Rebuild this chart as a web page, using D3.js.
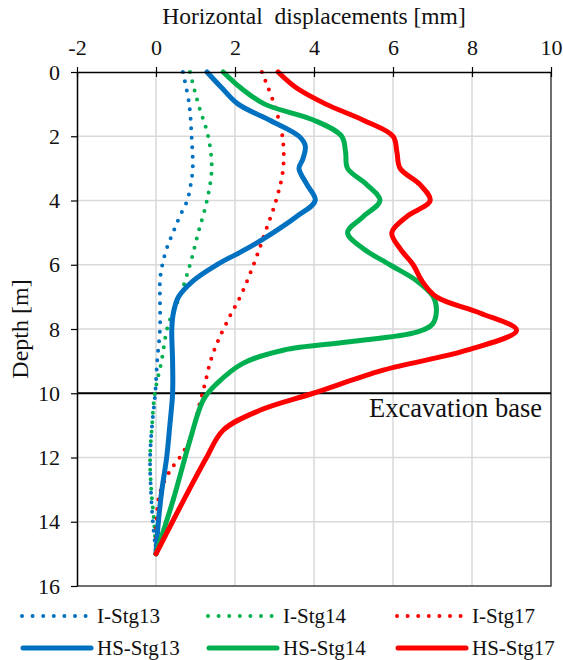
<!DOCTYPE html>
<html>
<head>
<meta charset="utf-8">
<script src="https://cdn.jsdelivr.net/npm/d3@7"></script>
<style>
  body { margin: 0; background: #fff; }
  svg text { font-family: 'Liberation Serif', 'Times New Roman', 'DejaVu Serif', serif; }
</style>
</head>
<body>
<div id="chart"></div>
<script>
// depth [m] and horizontal displacement [mm] per series
const depthI13 = [0, 1, 2, 3, 3.5, 4, 4.5, 5, 5.5, 6, 6.5, 7, 8, 9, 10, 11, 12, 13, 14, 15];
const valI13   = [0.68, 0.84, 0.9, 0.93, 0.88, 0.79, 0.6, 0.43, 0.27, 0.16, 0.1, 0.1, 0.1, 0.03, -0.02, -0.1, -0.15, -0.13, -0.08, 0];

const depthI14 = [0, 1, 2, 3, 4, 5, 6, 7, 7.5, 8, 9, 10, 11, 12, 13, 14, 15];
const valI14   = [0.86, 1.07, 1.32, 1.41, 1.29, 1.07, 0.86, 0.6, 0.42, 0.28, 0.14, -0.03, -0.1, -0.15, -0.12, -0.05, 0];

const depthI17 = [0, 1, 2, 3, 4, 5, 6, 7, 7.6, 8.4, 9, 9.7, 10.3, 11.4, 12, 12.4, 13.1, 14, 15];
const valI17   = [2.68, 2.99, 3.2, 3.22, 3.04, 2.76, 2.47, 2.13, 1.87, 1.56, 1.38, 1.24, 1.11, 0.87, 0.6, 0.36, 0.1, 0.01, 0];

const depthHS13 = [0, 0.5, 1, 1.5, 2, 2.3, 2.7, 3, 3.5, 4, 4.5, 5, 5.5, 6, 6.5, 7, 7.5, 8, 9, 10, 11, 12, 13, 14, 15];
const valHS13   = [1.29, 1.67, 2.08, 2.88, 3.62, 3.78, 3.72, 3.62, 3.82, 4.03, 3.56, 2.97, 2.3, 1.54, 0.94, 0.57, 0.44, 0.4, 0.42, 0.42, 0.35, 0.27, 0.15, 0.06, 0];

const depthHS14 = [0, 0.5, 1, 1.5, 2, 2.5, 3, 3.5, 4, 4.5, 5, 5.5, 6, 6.5, 7, 7.4, 7.85, 8.1, 8.4, 8.66, 9.07, 9.7, 10.2, 11.46, 13.3, 15];
const valHS14   = [1.7, 2.15, 2.75, 4.0, 4.7, 4.8, 4.85, 5.33, 5.67, 5.25, 4.85, 5.25, 5.92, 6.6, 7.02, 7.1, 7.0, 6.6, 4.9, 3.22, 2.2, 1.54, 1.2, 0.86, 0.44, 0];

const depthHS17 = [0, 0.5, 1, 1.5, 2, 2.5, 3, 3.5, 4, 4.5, 5, 5.5, 6, 6.5, 7, 7.5, 8.04, 8.66, 9.28, 10, 10.53, 11.15, 12, 13.54, 15];
const valHS17   = [3.09, 3.56, 4.3, 5.25, 6.0, 6.1, 6.18, 6.68, 6.94, 6.35, 5.97, 6.18, 6.51, 6.73, 7.1, 8.2, 9.13, 7.87, 5.75, 3.98, 2.63, 1.7, 1.28, 0.61, 0];

const seriesNames = ['I-Stg13', 'I-Stg14', 'I-Stg17', 'HS-Stg13', 'HS-Stg14', 'HS-Stg17'];
const xTicks = [-2, 0, 2, 4, 6, 8, 10];
const yTicks = [0, 2, 4, 6, 8, 10, 12, 14, 16];
const excavationDepth = 10;

const colors = { '13': '#0070c0', '14': '#00b050', '17': '#ff0000' };

const series = [
    { name: seriesNames[0], depth: depthI13, val: valI13, stage: '13', dotted: true },
    { name: seriesNames[1], depth: depthI14, val: valI14, stage: '14', dotted: true },
    { name: seriesNames[2], depth: depthI17, val: valI17, stage: '17', dotted: true },
    { name: seriesNames[3], depth: depthHS13, val: valHS13, stage: '13', dotted: false },
    { name: seriesNames[4], depth: depthHS14, val: valHS14, stage: '14', dotted: false },
    { name: seriesNames[5], depth: depthHS17, val: valHS17, stage: '17', dotted: false }
];

const W = 563, H = 660;
const m = { top: 72, left: 77, right: 12, bottom: 74 };
const pw = W - m.left - m.right, ph = H - m.top - m.bottom;
const serif = "'Liberation Serif', 'Times New Roman', 'DejaVu Serif', serif";

const svg = d3.select('#chart').append('svg')
    .attr('width', W)
    .attr('height', H);

const x = d3.scaleLinear().domain([-2, 10]).range([0, pw]);
const y = d3.scaleLinear().domain([0, 16]).range([0, ph]);

const plot = svg.append('g')
    .attr('transform', `translate(${m.left},${m.top})`);

// grid
plot.append('g').selectAll('line')
    .data(xTicks.slice(1, -1))
    .join('line')
    .attr('x1', d => x(d)).attr('x2', d => x(d))
    .attr('y1', 0).attr('y2', ph)
    .attr('stroke', '#d9d9d9').attr('stroke-width', 1.5);

plot.append('g').selectAll('line')
    .data(yTicks.slice(1, -1))
    .join('line')
    .attr('x1', 0).attr('x2', pw)
    .attr('y1', d => y(d)).attr('y2', d => y(d))
    .attr('stroke', '#d9d9d9').attr('stroke-width', 1.5);

// frame (right and bottom)
plot.append('path')
    .attr('d', `M${pw},0V${ph}H0`)
    .attr('fill', 'none')
    .attr('stroke', '#404040')
    .attr('stroke-width', 1.5);

// excavation base
plot.append('line')
    .attr('x1', 0).attr('x2', pw)
    .attr('y1', y(excavationDepth)).attr('y2', y(excavationDepth))
    .attr('stroke', '#000').attr('stroke-width', 2);

plot.append('text')
    .attr('x', pw - 9)
    .attr('y', y(excavationDepth) + 24)
    .attr('text-anchor', 'end')
    .attr('font-size', 26.5)
    .attr('fill', '#111')
    .text('Excavation base');

// curves
const line = d3.line()
    .x(d => x(d[1]))
    .y(d => y(d[0]))
    .curve(d3.curveCatmullRom.alpha(0.5));

plot.append('g').selectAll('path')
    .data(series)
    .join('path')
    .attr('d', s => line(s.depth.map((dp, i) => [dp, s.val[i]])))
    .attr('fill', 'none')
    .attr('stroke', s => colors[s.stage])
    .attr('stroke-width', s => s.dotted ? 4 : 5)
    .attr('stroke-linecap', 'round')
    .attr('stroke-dasharray', s => s.dotted ? '0 9.5' : null);

// axes
const xAxis = plot.append('g')
    .call(d3.axisTop(x).tickValues(xTicks).tickFormat(d => String(d))
        .tickSize(5).tickSizeOuter(0).tickPadding(12));
xAxis.selectAll('.tick line').attr('y2', 5).attr('y1', -5).attr('stroke-width', 1.2);
xAxis.select('.domain').attr('stroke-width', 1.5);
xAxis.attr('font-family', serif).attr('font-size', 22);
xAxis.selectAll('.tick text').attr('fill', '#111');

const yAxis = plot.append('g')
    .call(d3.axisLeft(y).tickValues(yTicks).tickFormat(d => String(d))
        .tickSize(6).tickSizeOuter(0).tickPadding(11));
yAxis.select('.domain').attr('stroke-width', 1.5);
yAxis.selectAll('.tick line').attr('stroke-width', 1.2);
yAxis.attr('font-family', serif).attr('font-size', 22);
yAxis.selectAll('.tick text').attr('fill', '#111');

// titles
svg.append('text')
    .attr('x', m.left + pw / 2)
    .attr('y', 24)
    .attr('text-anchor', 'middle')
    .attr('font-size', 23.5)
    .attr('fill', '#111')
    .style('white-space', 'pre')
    .text('Horizontal  displacements [mm]');

svg.append('text')
    .attr('transform', `translate(28,${m.top + ph / 2}) rotate(-90)`)
    .attr('text-anchor', 'middle')
    .attr('font-size', 24)
    .attr('fill', '#111')
    .text('Depth [m]');

// legend
const legendX = [22, 208, 397];
const legendY = [616, 648];
const legend = svg.append('g').selectAll('g')
    .data(series)
    .join('g')
    .attr('transform', (s, i) => `translate(${legendX[i % 3]},${legendY[s.dotted ? 0 : 1]})`);

legend.append('line')
    .attr('x1', s => s.dotted ? 0 : 1).attr('x2', s => s.dotted ? 64 : 69)
    .attr('y1', 0).attr('y2', 0)
    .attr('stroke', s => colors[s.stage])
    .attr('stroke-width', s => s.dotted ? 4 : 5)
    .attr('stroke-linecap', 'round')
    .attr('stroke-dasharray', s => s.dotted ? '0 10.6' : null);

legend.append('text')
    .attr('x', 75)
    .attr('y', 7)
    .attr('font-size', 21)
    .attr('fill', '#111')
    .text(s => s.name);
</script>
</body>
</html>
